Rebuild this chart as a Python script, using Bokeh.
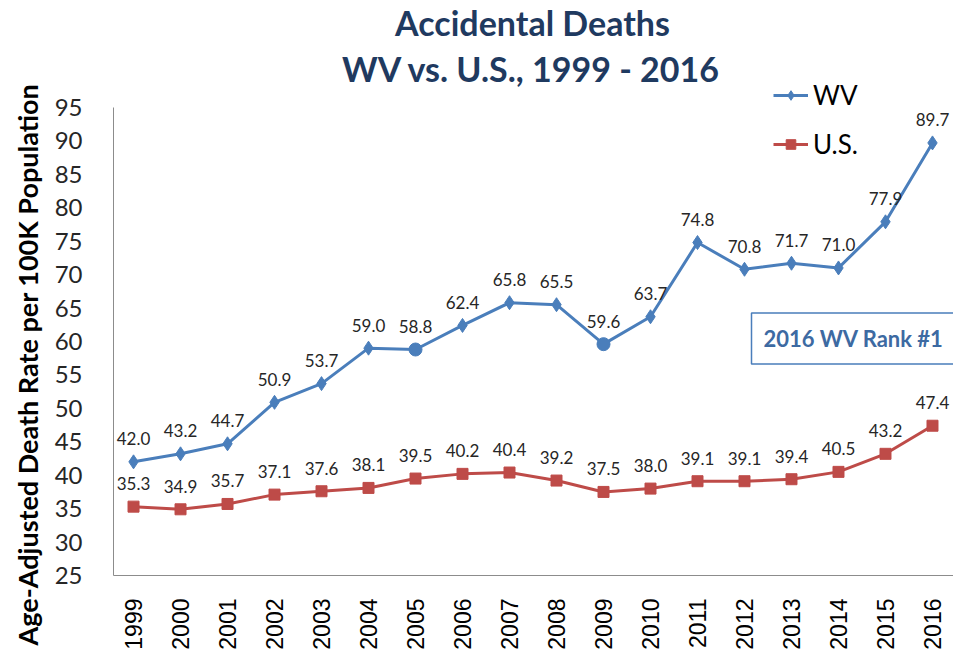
from bokeh.plotting import figure
from bokeh.models import (ColumnDataSource, Range1d, FixedTicker, LabelSet, Label,
                          Legend, LegendItem, Title)
from bokeh.core.properties import value
from bokeh.embed import file_html
from bokeh.resources import INLINE
import math

years = [1999, 2000, 2001, 2002, 2003, 2004, 2005, 2006, 2007, 2008,
         2009, 2010, 2011, 2012, 2013, 2014, 2015, 2016]
wv = [42.0, 43.2, 44.7, 50.9, 53.7, 59.0, 58.8, 62.4, 65.8, 65.5,
      59.6, 63.7, 74.8, 70.8, 71.7, 71.0, 77.9, 89.7]
us = [35.3, 34.9, 35.7, 37.1, 37.6, 38.1, 39.5, 40.2, 40.4, 39.2,
      37.5, 38.0, 39.1, 39.1, 39.4, 40.5, 43.2, 47.4]
y_ticks = [25, 30, 35, 40, 45, 50, 55, 60, 65, 70, 75, 80, 85, 90, 95]
title_lines = ["Accidental Deaths", "WV vs. U.S., 1999 - 2016"]
y_title = "Age-Adjusted Death Rate per 100K Population"
note = "2016 WV Rank #1"
circle_years = [2005, 2009]

WV_C = "#4A7EBB"
US_C = "#BE4B48"
FONT = "Lato"

wv_src = ColumnDataSource(dict(
    x=years, y=wv, lbl=[f"{v:.1f}" for v in wv],
    m=["circle" if yr in circle_years else "diamond" for yr in years],
    s=[13 if yr in circle_years else 14 for yr in years]))
us_src = ColumnDataSource(dict(x=years, y=us, lbl=[f"{v:.1f}" for v in us]))

# frame: left edge at 113px, top at 0px, bottom at 575px (95 -> 107px)
p = figure(width=953, height=652, output_backend="svg", toolbar_location=None,
           x_range=Range1d(1998.574, 2016.447), y_range=Range1d(25, 111.0))
p.min_border = 0
p.min_border_left = 113
p.min_border_top = 0
p.min_border_bottom = 77
p.min_border_right = 0
p.outline_line_color = None
p.xgrid.visible = False
p.ygrid.visible = False
p.background_fill_color = "white"
p.border_fill_color = "white"

# axes
p.xaxis.ticker = FixedTicker(ticks=years)
p.xaxis.major_label_overrides = {yr: str(yr) for yr in years}
p.xaxis.major_label_orientation = math.pi / 2
p.xaxis.major_label_text_font = "Liberation Sans"
p.xaxis.major_label_text_font_size = "23px"
p.xaxis.major_label_text_color = "#000000"
p.xaxis.major_label_standoff = 17
p.xaxis.major_tick_line_color = None
p.xaxis.minor_tick_line_color = None
p.xaxis.axis_line_color = "#8C8C8C"

p.yaxis.ticker = FixedTicker(ticks=y_ticks)
p.yaxis.bounds = (25, 95)
p.yaxis.major_label_text_font = FONT
p.yaxis.major_label_text_font_size = "24px"
p.yaxis.major_label_text_color = "#262626"
p.yaxis.major_label_standoff = 25
p.yaxis.major_tick_line_color = None
p.yaxis.minor_tick_line_color = None
p.yaxis.axis_line_color = "#8C8C8C"

# series
wv_line = p.line("x", "y", source=wv_src, line_color=WV_C, line_width=3)
wv_pts = p.scatter("x", "y", source=wv_src, marker="m", size="s",
                   fill_color=WV_C, line_color=WV_C)
us_line = p.line("x", "y", source=us_src, line_color=US_C, line_width=3)
us_pts = p.scatter("x", "y", source=us_src, marker="square", size=11,
                   fill_color=US_C, line_color=US_C)

for src in (wv_src, us_src):
    p.add_layout(LabelSet(x="x", y="y", text="lbl", source=src, y_offset=23,
                          text_align="center", text_baseline="middle",
                          text_font=value(FONT), text_font_size="17px",
                          text_color="#262626"))

# legend (location = bottom-left corner, relative to the frame)
legend = Legend(items=[LegendItem(label="WV", renderers=[wv_line, wv_pts]),
                       LegendItem(label="U.S.", renderers=[us_line, us_pts])],
                location=(660, 415), orientation="vertical",
                padding=0, margin=0, spacing=17, glyph_height=24, glyph_width=35,
                label_height=24, label_standoff=5,
                label_text_font=FONT, label_text_font_size="26px",
                label_text_color="#000000", label_text_baseline="middle",
                background_fill_alpha=0, border_line_alpha=0)
p.add_layout(legend, "center")

# chart title (screen units relative to the plot frame)
p.add_layout(Label(x=419, y=553, x_units="screen", y_units="screen",
                   text=title_lines[0], text_align="center", text_baseline="middle",
                   text_font=FONT, text_font_style="bold", text_font_size="34px",
                   text_color="#1F3A60"))
p.add_layout(Label(x=418, y=507, x_units="screen", y_units="screen",
                   text=title_lines[1], text_align="center", text_baseline="middle",
                   text_font=FONT, text_font_style="bold", text_font_size="34px",
                   text_color="#1F3A60"))

# y-axis title
p.add_layout(Title(text=y_title, align="left", offset=-70, vertical_align="middle",
                   text_font=FONT, text_font_style="bold", text_font_size="27px",
                   text_color="#000000", standoff=14), "left")

# annotation box
p.add_layout(Label(x=638, y=237, x_units="screen", y_units="screen",
                   text=note, text_align="left", text_baseline="middle",
                   text_font=FONT, text_font_style="bold", text_font_size="22px",
                   text_color="#3D6AA2", padding=12,
                   border_line_color=WV_C, border_line_width=1.5,
                   background_fill_color="white"))

open("out.html", "w").write(file_html(p, INLINE))
